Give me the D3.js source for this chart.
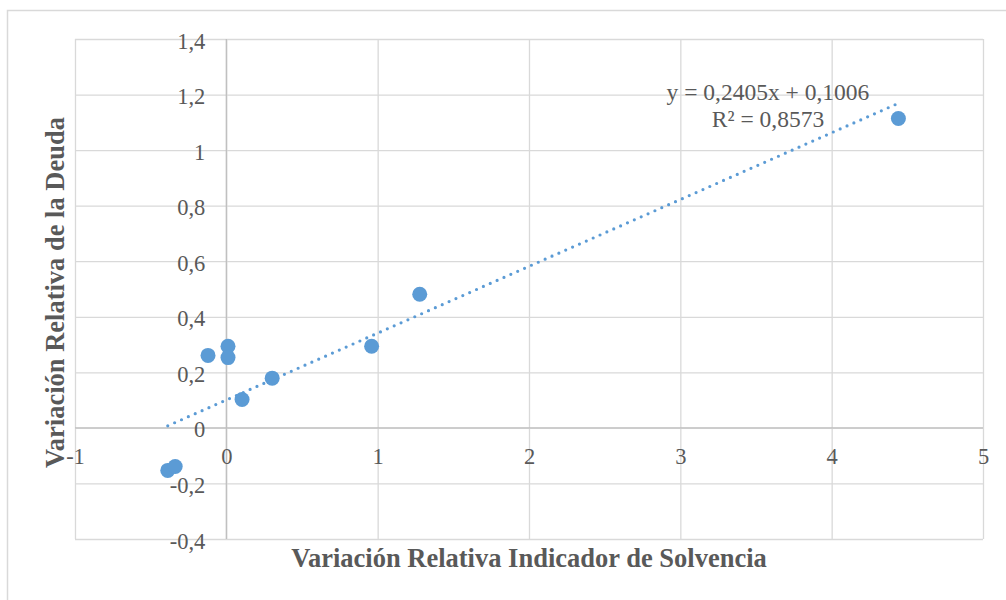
<!DOCTYPE html>
<html>
<head>
<meta charset="utf-8">
<script src="https://cdn.jsdelivr.net/npm/d3@7/dist/d3.min.js"></script>
<style>
  html, body { margin: 0; padding: 0; background: #fff; }
  svg { display: block; }
</style>
</head>
<body>
<script>
(function(){

// data
var xValues = [-0.387, -0.338, -0.121, 0.011, 0.011, 0.104, 0.303, 0.960, 1.278, 4.441];
var yValues = [-0.153, -0.139, 0.261, 0.294, 0.253, 0.102, 0.179, 0.294, 0.481, 1.114];

var xTicks = [-1, 0, 1, 2, 3, 4, 5];
var yTicks = [-0.4, -0.2, 0, 0.2, 0.4, 0.6, 0.8, 1, 1.2, 1.4];

// linear trendline shown on the chart
var trendSlope = 0.2405,
    trendIntercept = 0.1006;
var trendLabels = ["y = 0,2405x + 0,1006", "R\u00b2 = 0,8573"];

var xTitle = "Variación Relativa Indicador de Solvencia",
    yTitle = "Variación Relativa de la Deuda";

// frame
var width = 1006,
    height = 600,
    plotLeft = 75,
    plotRight = 983,
    plotTop = 39,
    plotBottom = 539;

var textColor = "#595959",
    gridColor = "#d9d9d9",
    axisColor = "#bfbfbf",
    dotColor = "#5b9bd5",
    fontFamily = "Liberation Serif, Times New Roman, serif";

var svg = d3.select("body")
    .append("svg")
    .attr("width", width)
    .attr("height", height)
    .attr("font-family", fontFamily);

// chart area border
svg.append("rect")
    .attr("x", 7.5)
    .attr("y", 10.5)
    .attr("width", 1010)
    .attr("height", 600)
    .attr("fill", "#fff")
    .attr("stroke", gridColor)
    .attr("stroke-width", 1.5);

var x = d3.scaleLinear()
    .domain([-1, 5])
    .range([plotLeft, plotRight]);

var y = d3.scaleLinear()
    .domain([-0.4, 1.4])
    .range([plotBottom, plotTop]);

// number format with comma decimal
function fmt(d){
    return String(+d.toFixed(1)).replace(".", ",");
}

// gridlines
var xGrid = svg.append("g")
    .attr("transform", "translate(0," + plotBottom + ")")
    .call(d3.axisBottom(x).tickValues(xTicks).tickSize(-(plotBottom - plotTop)).tickFormat(""));
var yGrid = svg.append("g")
    .attr("transform", "translate(" + plotLeft + ",0)")
    .call(d3.axisLeft(y).tickValues(yTicks).tickSize(-(plotRight - plotLeft)).tickFormat(""));
[xGrid, yGrid].forEach(function(g){
    g.select(".domain").remove();
    g.selectAll("line")
        .attr("stroke", gridColor)
        .attr("stroke-width", 1.3);
});

// axis lines through zero
svg.append("line")
    .attr("x1", x(0)).attr("x2", x(0))
    .attr("y1", plotTop).attr("y2", plotBottom)
    .attr("stroke", axisColor)
    .attr("stroke-width", 1.3);
svg.append("line")
    .attr("x1", plotLeft).attr("x2", plotRight)
    .attr("y1", y(0)).attr("y2", y(0))
    .attr("stroke", axisColor)
    .attr("stroke-width", 1.3);

// tick labels
var xAxis = svg.append("g")
    .attr("transform", "translate(0," + y(0) + ")")
    .call(d3.axisBottom(x).tickValues(xTicks).tickSize(0).tickFormat(fmt));
xAxis.selectAll("text")
    .attr("y", 36.5)
    .attr("dy", null);

var yAxis = svg.append("g")
    .attr("transform", "translate(" + x(0) + ",0)")
    .call(d3.axisLeft(y).tickValues(yTicks).tickSize(0).tickPadding(21).tickFormat(fmt));
yAxis.selectAll("text")
    .attr("dy", "0.4em");

[xAxis, yAxis].forEach(function(g){
    g.attr("font-family", fontFamily)
        .attr("font-size", 22.5);
    g.select(".domain").remove();
    g.selectAll("text")
        .attr("fill", textColor);
});

// trendline
var xMin = d3.min(xValues),
    xMax = d3.max(xValues);
svg.append("line")
    .attr("x1", x(xMin))
    .attr("y1", y(trendSlope * xMin + trendIntercept))
    .attr("x2", x(xMax))
    .attr("y2", y(trendSlope * xMax + trendIntercept))
    .attr("stroke", dotColor)
    .attr("stroke-width", 3.2)
    .attr("stroke-linecap", "round")
    .attr("stroke-dasharray", "0,7.5");

// points
svg.selectAll(".dot")
    .data(d3.range(xValues.length))
    .enter()
    .append("circle")
    .attr("class", "dot")
    .attr("cx", function(i){ return x(xValues[i]); })
    .attr("cy", function(i){ return y(yValues[i]); })
    .attr("r", 7.5)
    .attr("fill", dotColor);

// trendline label
svg.selectAll(".trendLabel")
    .data(trendLabels)
    .enter()
    .append("text")
    .attr("class", "trendLabel")
    .attr("x", 768)
    .attr("y", function(d, i){ return 100 + i * 27; })
    .attr("text-anchor", "middle")
    .attr("fill", textColor)
    .attr("font-size", 23.5)
    .text(function(d){ return d; });

// axis titles
svg.append("text")
    .attr("x", (plotLeft + plotRight) / 2)
    .attr("y", 567)
    .attr("text-anchor", "middle")
    .attr("fill", textColor)
    .attr("font-size", 26.5)
    .attr("font-weight", "bold")
    .text(xTitle);

svg.append("text")
    .attr("transform", "translate(64,292.5) rotate(-90)")
    .attr("text-anchor", "middle")
    .attr("fill", textColor)
    .attr("font-size", 26.5)
    .attr("font-weight", "bold")
    .text(yTitle);

})();
</script>
</body>
</html>
